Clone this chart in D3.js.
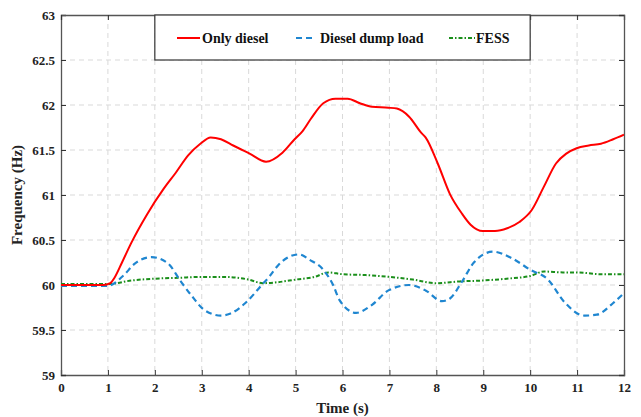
<!DOCTYPE html>
<html><head><meta charset="utf-8">
<script src="https://cdn.jsdelivr.net/npm/d3@7"></script>
<style>body{margin:0;background:#fff;}svg{display:block;}</style>
</head><body>
<svg id="c" width="641" height="417"></svg>
<script>
const xTicks = [0,1,2,3,4,5,6,7,8,9,10,11,12];
const yTicks = [59,59.5,60,60.5,61,61.5,62,62.5,63];
const seriesNames = ["Only diesel","Diesel dump load","FESS"];

const dieselT = [0,0.5,0.9,1.05,1.14,1.3,1.49,1.84,2.19,2.45,2.71,2.97,3.19,3.41,3.67,4.02,4.37,4.72,4.98,5.15,5.33,5.59,5.85,6.11,6.37,6.63,6.98,7.16,7.42,7.68,7.77,8.03,8.29,8.55,8.73,8.99,9.25,9.51,9.77,10.03,10.29,10.55,10.77,10.99,11.25,11.51,11.77,12];
const dieselV = [60.0,60.0,60.0,60.02,60.08,60.25,60.46,60.79,61.07,61.25,61.44,61.57,61.64,61.62,61.55,61.46,61.37,61.47,61.62,61.71,61.85,62.02,62.07,62.07,62.02,61.98,61.97,61.96,61.87,61.69,61.64,61.35,61.01,60.79,60.67,60.60,60.60,60.63,60.70,60.83,61.09,61.35,61.46,61.52,61.55,61.57,61.62,61.67];

const dumpT = [0,0.5,1.0,1.32,1.58,1.93,2.28,2.54,2.8,3.06,3.41,3.6,3.93,4.28,4.45,4.63,5.07,5.3,5.59,5.8,5.94,6.29,6.63,6.98,7.42,7.77,8.12,8.29,8.55,8.8,9.21,9.6,10.0,10.38,10.73,11.16,11.42,11.77,12];
const dumpV = [59.99,59.99,59.99,60.10,60.24,60.31,60.24,60.05,59.87,59.72,59.66,59.68,59.80,60.0,60.1,60.22,60.34,60.28,60.17,60.0,59.83,59.69,59.78,59.94,60.0,59.94,59.82,59.85,60.04,60.25,60.37,60.30,60.17,60.06,59.81,59.66,59.67,59.80,59.91];

const fessT = [0,0.5,1.0,1.5,2.0,2.5,3.0,3.5,4.0,4.3,4.6,5.0,5.4,5.7,6.0,6.5,7.0,7.5,8.0,8.5,9.0,9.5,10.0,10.3,10.7,11.0,11.5,12];
const fessV = [60.01,60.01,60.01,60.05,60.07,60.08,60.09,60.09,60.06,60.02,60.03,60.06,60.09,60.14,60.12,60.11,60.09,60.06,60.02,60.04,60.05,60.07,60.10,60.15,60.14,60.14,60.12,60.12];

const svg = d3.select("#c");
const L=61, R=624, T=15, B=375;
const x = d3.scaleLinear().domain([0,12]).range([L,R]);
const y = d3.scaleLinear().domain([59,63]).range([B,T]);
const font = "'Liberation Serif','Times New Roman',serif";

// grid
const g = svg.append("g");
g.selectAll(".vg").data(xTicks.slice(1,-1)).enter().append("line")
 .attr("x1",d=>x(d)).attr("x2",d=>x(d)).attr("y1",T).attr("y2",B)
 .attr("stroke","#d9d9d9").attr("stroke-width",1).attr("stroke-dasharray","5,4");
g.selectAll(".hg").data(yTicks.slice(1,-1)).enter().append("line")
 .attr("y1",d=>y(d)).attr("y2",d=>y(d)).attr("x1",L).attr("x2",R)
 .attr("stroke","#d9d9d9").attr("stroke-width",1).attr("stroke-dasharray","5,4");

// axes
const ax = d3.axisBottom(x).tickValues(xTicks).tickSize(-5).tickPadding(8).tickFormat(d3.format("d"));
const ay = d3.axisLeft(y).tickValues(yTicks).tickSize(-5).tickPadding(6).tickFormat(d=>String(d));
const axt = d3.axisTop(x).tickValues(xTicks).tickSize(-5).tickFormat("");
const ayr = d3.axisRight(y).tickValues(yTicks).tickSize(-5).tickFormat("");
function style(sel){
  sel.select(".domain").attr("stroke","#555").attr("stroke-width",1.3);
  sel.selectAll(".tick line").attr("stroke","#333");
  sel.selectAll("text").attr("font-family",font).attr("font-weight","bold").attr("font-size",13).attr("fill","#222");
}
svg.append("g").attr("transform",`translate(0,${B})`).call(ax).call(style);
svg.append("g").attr("transform",`translate(${L},0)`).call(ay).call(style);
svg.append("g").attr("transform",`translate(0,${T})`).call(axt).call(style);
svg.append("g").attr("transform",`translate(${R},0)`).call(ayr).call(style);

// lines
const line = d3.line().x(d=>x(d[0])).y(d=>y(d[1])).curve(d3.curveMonotoneX);
svg.append("clipPath").attr("id","cp").append("rect").attr("x",L).attr("y",T).attr("width",R-L).attr("height",B-T);
const lg = svg.append("g").attr("clip-path","url(#cp)");
lg.append("path").datum(fessT.map((t,i)=>[t,fessV[i]])).attr("d",line)
  .attr("fill","none").attr("stroke","#1a8f1a").attr("stroke-width",2).attr("stroke-dasharray","4,2,1.5,2");
lg.append("path").datum(dumpT.map((t,i)=>[t,dumpV[i]])).attr("d",line)
  .attr("fill","none").attr("stroke","#1f86d0").attr("stroke-width",2.2).attr("stroke-dasharray","6,4");
lg.append("path").datum(dieselT.map((t,i)=>[t,dieselV[i]])).attr("d",line)
  .attr("fill","none").attr("stroke","#ff0000").attr("stroke-width",2);

// legend
const leg = svg.append("g");
leg.append("rect").attr("x",x(2)).attr("y",T).attr("width",x(10)-x(2)).attr("height",y(62.5)-T)
  .attr("fill","#fff").attr("stroke","#333").attr("stroke-width",1.2);
const ly = 38;
const items = [
  {name:seriesNames[0], color:"#ff0000", dash:null, x1:177, x2:200, tx:202},
  {name:seriesNames[1], color:"#1f86d0", dash:"6,4", x1:296, x2:314, tx:320},
  {name:seriesNames[2], color:"#1a8f1a", dash:"4,2,1.5,2", x1:449, x2:475, tx:476}
];
items.forEach(it=>{
  leg.append("line").attr("x1",it.x1).attr("x2",it.x2).attr("y1",ly).attr("y2",ly)
    .attr("stroke",it.color).attr("stroke-width",2).attr("stroke-dasharray",it.dash);
  leg.append("text").attr("x",it.tx).attr("y",ly).attr("dy","0.35em").text(it.name)
    .attr("font-family",font).attr("font-weight","bold").attr("font-size",14).attr("fill","#111");
});

// titles
svg.append("text").attr("x",(L+R)/2).attr("y",413).attr("text-anchor","middle").text("Time (s)")
  .attr("font-family",font).attr("font-weight","bold").attr("font-size",15).attr("fill","#222");
svg.append("text").attr("transform",`translate(22,${(T+B)/2}) rotate(-90)`).attr("text-anchor","middle").text("Frequency (Hz)")
  .attr("font-family",font).attr("font-weight","bold").attr("font-size",15).attr("fill","#222");
</script>
</body></html>
